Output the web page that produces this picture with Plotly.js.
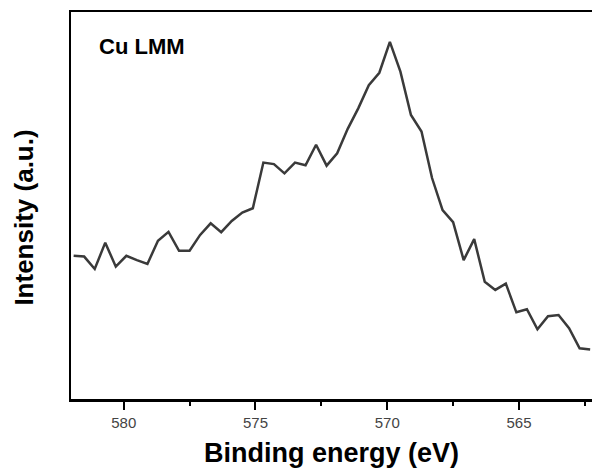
<!DOCTYPE html>
<html>
<head>
<meta charset="utf-8">
<script src="https://cdn.plot.ly/plotly-3.0.1.min.js"></script>
<style>
  html, body { margin: 0; padding: 0; background: #fff; overflow: hidden; }
  #chart { width: 592px; height: 472px; }
</style>
</head>
<body>
<div id="chart"></div>
<script>
// Cu LMM Auger region of the XPS survey, 0.4 eV steps
const bindingEnergy = [
  581.9, 581.5, 581.1, 580.7, 580.3, 579.9, 579.5, 579.1, 578.7, 578.3,
  577.9, 577.5, 577.1, 576.7, 576.3, 575.9, 575.5, 575.1, 574.7, 574.3,
  573.9, 573.5, 573.1, 572.7, 572.3, 571.9, 571.5, 571.1, 570.7, 570.3,
  569.9, 569.5, 569.1, 568.7, 568.3, 567.9, 567.5, 567.1, 566.7, 566.3,
  565.9, 565.5, 565.1, 564.7, 564.3, 563.9, 563.5, 563.1, 562.7, 562.3
];
const intensity = [
  37.0, 36.8, 33.6, 40.4, 34.2, 37.0, 35.9, 34.9, 40.9, 43.2,
  38.3, 38.3, 42.4, 45.4, 43.1, 46.0, 48.2, 49.3, 61.1, 60.7,
  58.3, 61.1, 60.4, 65.7, 60.3, 63.5, 69.8, 75.1, 81.1, 84.3,
  92.3, 84.6, 73.4, 69.1, 57.1, 48.8, 45.7, 35.9, 41.3, 30.3,
  28.2, 29.8, 22.4, 23.2, 18.0, 21.4, 21.7, 18.3, 13.1, 12.8
];
const xTickValues = [580, 575, 570, 565];
const xTickLabels = ['580', '575', '570', '565'];
const panelLabel = 'Cu LMM';
const xTitle = 'Binding energy (eV)';
const yTitle = 'Intensity (a.u.)';

const font = 'Liberation Sans, Arial, sans-serif';

const trace = {
  x: bindingEnergy,
  y: intensity,
  type: 'scatter',
  mode: 'lines',
  line: { color: '#3a3a3a', width: 2.5 },
  hoverinfo: 'skip'
};

const layout = {
  width: 592,
  height: 472,
  margin: { l: 71, r: 0, t: 12, b: 73 },
  paper_bgcolor: '#ffffff',
  plot_bgcolor: '#ffffff',
  showlegend: false,
  font: { family: font, color: '#000' },
  xaxis: {
    range: [582, 562.23],
    showgrid: false,
    zeroline: false,
    showline: true,
    mirror: true,
    linecolor: '#000',
    linewidth: 2.5,
    ticks: 'outside',
    ticklen: 8,
    tickwidth: 2,
    tickcolor: '#000',
    tickmode: 'array',
    tickvals: xTickValues,
    ticktext: xTickLabels,
    tickfont: { family: font, size: 15, color: '#444' },
    minor: { ticks: 'outside', dtick: 2.5, ticklen: 4, tickwidth: 2, tickcolor: '#000', showgrid: false },
    automargin: false,
    title: {
      text: '<b>' + xTitle + '</b>',
      font: { family: font, size: 27, color: '#000' },
      standoff: 14
    }
  },
  yaxis: {
    range: [0, 100],
    showgrid: false,
    zeroline: false,
    showline: true,
    mirror: false,
    linecolor: '#000',
    linewidth: 2.5,
    ticks: '',
    showticklabels: false,
    automargin: false
  },
  annotations: [
    {
      text: '<b>' + yTitle + '</b>',
      xref: 'paper', yref: 'paper',
      x: -0.09, y: 0.469,
      xanchor: 'center', yanchor: 'middle',
      textangle: -90,
      showarrow: false,
      font: { family: font, size: 26, color: '#000' }
    },
    {
      text: '<b>' + panelLabel + '</b>',
      xref: 'paper', yref: 'paper',
      x: 0.05, y: 0.912,
      xanchor: 'left', yanchor: 'middle',
      showarrow: false,
      font: { family: font, size: 22, color: '#000' }
    }
  ]
};

Plotly.newPlot('chart', [trace], layout, { displayModeBar: false, staticPlot: true });
</script>
</body>
</html>
